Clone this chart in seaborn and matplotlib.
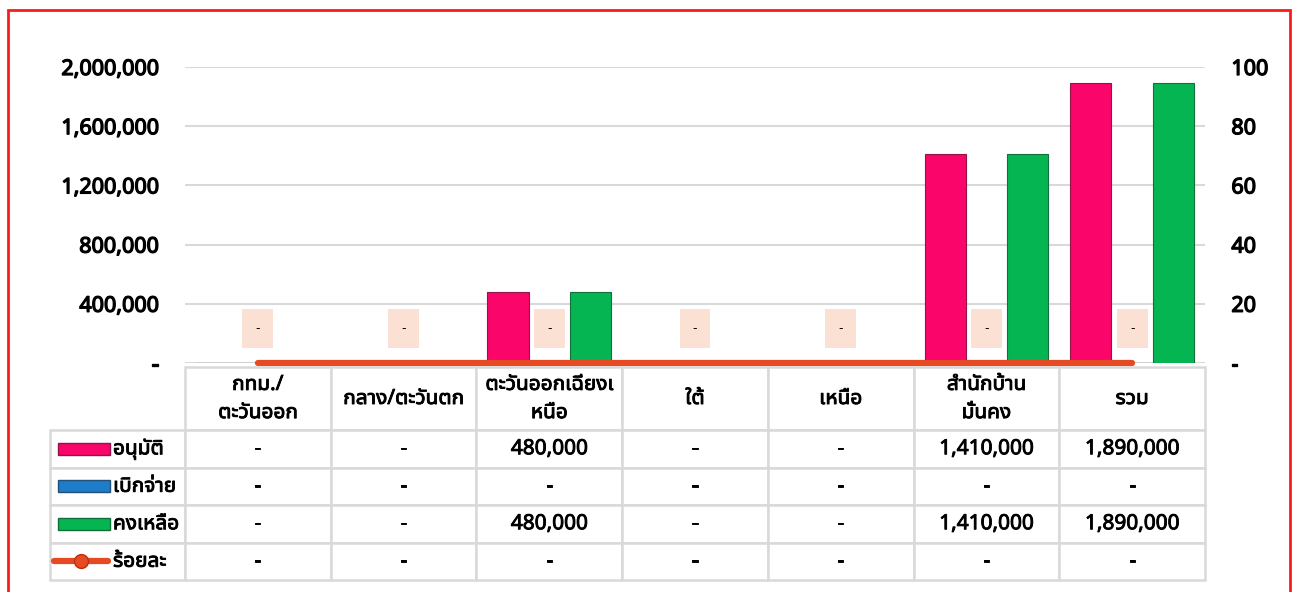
import pandas as pd
import numpy as np
import matplotlib.pyplot as plt
import matplotlib.patheffects as pe
import seaborn as sns
from matplotlib.patches import Rectangle
from matplotlib.lines import Line2D

regions = ['กทม./\nตะวันออก', 'กลาง/ตะวันตก', 'ตะวันออกเฉียงเ\nหนือ', 'ใต้', 'เหนือ', 'สำนักบ้าน\nมั่นคง', 'รวม']
approved = [0, 0, 480000, 0, 0, 1410000, 1890000]
disbursed = [0, 0, 0, 0, 0, 0, 0]
remaining = [0, 0, 480000, 0, 0, 1410000, 1890000]
percent = [0, 0, 0, 0, 0, 0, 0]
series = ['อนุมัติ', 'เบิกจ่าย', 'คงเหลือ']
colors = ['#FA0569', '#1E7CC8', '#05B552']
line_color = '#E64A22'

sns.set_style('white')
plt.rcParams['font.family'] = ['Noto Sans Thai UI', 'Noto Sans Thai', 'Sarabun', 'DejaVu Sans']
plt.rcParams['text.color'] = 'black'
plt.rcParams['ytick.color'] = 'black'

bold = [pe.withStroke(linewidth=0.95, foreground='black')]
semi = [pe.withStroke(linewidth=0.65, foreground='black')]

df = pd.DataFrame({
    'region': regions * 3,
    'series': [s for s in series for _ in regions],
    'value': approved + disbursed + remaining,
})

W, H = 1295, 592
fig = plt.figure(figsize=(12.95, 5.92), dpi=100)

# outer red frame
fig.patches.append(Rectangle((8 / W, -0.05), 1282 / W, 1.05 - 10 / H, transform=fig.transFigure,
                             fill=False, edgecolor='#FF1A1A', linewidth=2))

ax = fig.add_axes([185 / W, (H - 363) / H, 1020 / W, 296 / H])
sns.barplot(data=df, x='region', y='value', hue='series', palette=colors, width=0.85,
            errorbar=None, ax=ax, legend=False, linewidth=0.8, saturation=1)
for bar, c in zip(ax.patches, [c for c in colors for _ in regions]):
    bar.set_edgecolor(sns.dark_palette(c, 3)[1])
ax.set_ylim(0, 2000000)
ax.set_xlim(-0.5, len(regions) - 0.5)
ax.set_yticks(np.arange(0, 2000001, 400000))
ax.set_yticklabels(['-'] + [f'{v:,.0f}' for v in np.arange(400000, 2000001, 400000)])
ax.grid(axis='y', color='#d9d9d9', linewidth=1.5)
ax.set_axisbelow(True)
ax.set_xticks([])
ax.set_xlabel('')
ax.set_ylabel('')
for s in ax.spines.values():
    s.set_visible(False)
ax.tick_params(axis='y', length=0, pad=19, labelsize=15.5)
for t in ax.get_yticklabels():
    t.set_path_effects(bold)

ax2 = ax.twinx()
ax2.set_ylim(0, 100)
ax2.set_yticks(np.arange(0, 101, 20))
ax2.set_yticklabels(['-'] + [str(v) for v in range(20, 101, 20)])
ax2.tick_params(axis='y', length=0, pad=19, labelsize=15.5)
for t in ax2.get_yticklabels():
    t.set_path_effects(bold)
for s in ax2.spines.values():
    s.set_visible(False)
sns.lineplot(x=np.arange(len(regions)), y=percent, ax=ax2, color=line_color, linewidth=4.5,
             solid_capstyle='round', clip_on=False, zorder=5)
for i, p in enumerate(percent):
    ax2.annotate('-' if p == 0 else f'{p:.0f}', (i, p), xytext=(0, 25), textcoords='offset points',
                 ha='center', va='center', fontsize=9, family='DejaVu Sans',
                 bbox=dict(boxstyle='square,pad=1.05', fc='#FAE1D3', ec='none'))

# data table
tax = fig.add_axes([50 / W, (H - 580) / H, 1155 / W, 213 / H])
tax.axis('off')
fmt = lambda v: '-' if v == 0 else f'{v:,.0f}'
cell_text = [[''] + regions]
for name, vals in zip(series + ['ร้อยละ'], [approved, disbursed, remaining, percent]):
    cell_text.append([name] + [fmt(v) for v in vals])
col_w = [135 / 1155] + [145.7 / 1155] * len(regions)
tbl = tax.table(cellText=cell_text, colWidths=col_w, cellLoc='center', bbox=[0, 0, 1, 1])
tbl.auto_set_font_size(False)
tbl.set_fontsize(15)
for (r, c), cell in tbl.get_celld().items():
    cell.set_edgecolor('#d9d9d9')
    cell.set_linewidth(1.8)
    cell.set_height(63 / 213 if r == 0 else 37.5 / 213)
    cell.get_text().set_path_effects(semi)
    cell.get_text().set_linespacing(1.45)
    if r == 0 and c == 0:
        cell.set_visible(False)
    if c == 0 and r > 0:
        cell._loc = 'left'
        cell.PAD = 63 / 135
        cell.get_text().set_ha('left')
        cell.get_text().set_path_effects(semi)

# legend keys inside the table row labels
row_mid = [(H - 448.5) / H, (H - 486) / H, (H - 524) / H]
for y, c in zip(row_mid, colors):
    fig.patches.append(Rectangle((58 / W, y - 6 / H), 52 / W, 12 / H, transform=fig.transFigure,
                                 fc=c, ec=sns.dark_palette(c, 3)[1], lw=1))
ly = (H - 561) / H
fig.lines.append(Line2D([54 / W, 108 / W], [ly, ly], transform=fig.transFigure, color=line_color,
                        linewidth=4.5, solid_capstyle='round'))
fig.lines.append(Line2D([81 / W], [ly], transform=fig.transFigure, color=line_color, marker='o',
                        markersize=10, markeredgecolor='#b8300f'))

fig.savefig('out.png', dpi=100)
